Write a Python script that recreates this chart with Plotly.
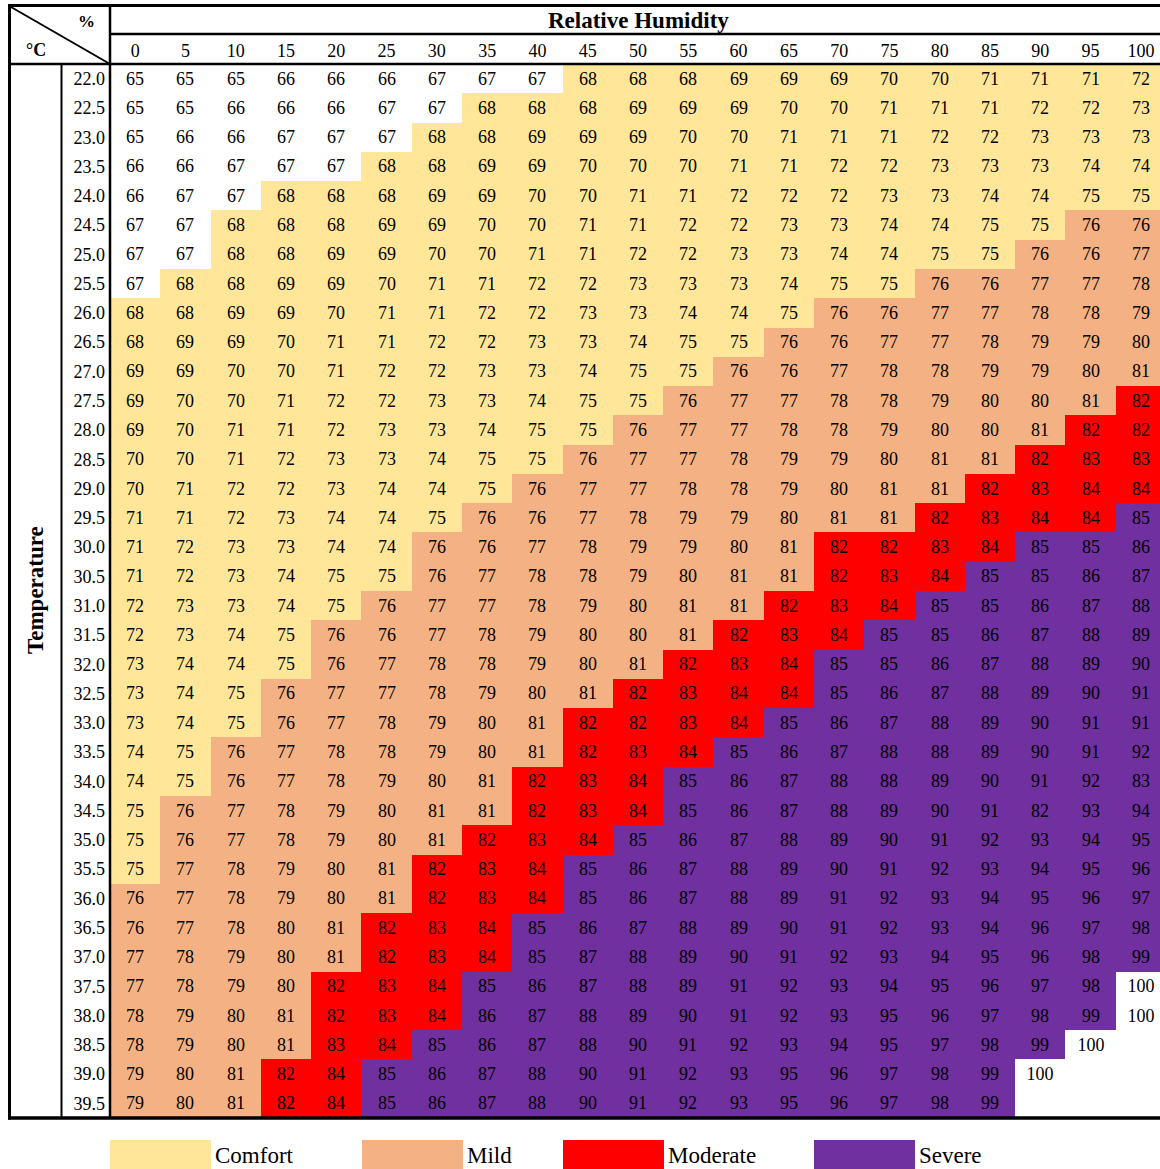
import plotly.graph_objects as go

humidity = [0, 5, 10, 15, 20, 25, 30, 35, 40, 45, 50, 55, 60, 65, 70, 75, 80, 85, 90, 95, 100]
temperature = [22.0, 22.5, 23.0, 23.5, 24.0, 24.5, 25.0, 25.5, 26.0, 26.5, 27.0, 27.5,
               28.0, 28.5, 29.0, 29.5, 30.0, 30.5, 31.0, 31.5, 32.0, 32.5, 33.0, 33.5,
               34.0, 34.5, 35.0, 35.5, 36.0, 36.5, 37.0, 37.5, 38.0, 38.5, 39.0, 39.5]

values = [
    [65, 65, 65, 66, 66, 66, 67, 67, 67, 68, 68, 68, 69, 69, 69, 70, 70, 71, 71, 71, 72],
    [65, 65, 66, 66, 66, 67, 67, 68, 68, 68, 69, 69, 69, 70, 70, 71, 71, 71, 72, 72, 73],
    [65, 66, 66, 67, 67, 67, 68, 68, 69, 69, 69, 70, 70, 71, 71, 71, 72, 72, 73, 73, 73],
    [66, 66, 67, 67, 67, 68, 68, 69, 69, 70, 70, 70, 71, 71, 72, 72, 73, 73, 73, 74, 74],
    [66, 67, 67, 68, 68, 68, 69, 69, 70, 70, 71, 71, 72, 72, 72, 73, 73, 74, 74, 75, 75],
    [67, 67, 68, 68, 68, 69, 69, 70, 70, 71, 71, 72, 72, 73, 73, 74, 74, 75, 75, 76, 76],
    [67, 67, 68, 68, 69, 69, 70, 70, 71, 71, 72, 72, 73, 73, 74, 74, 75, 75, 76, 76, 77],
    [67, 68, 68, 69, 69, 70, 71, 71, 72, 72, 73, 73, 73, 74, 75, 75, 76, 76, 77, 77, 78],
    [68, 68, 69, 69, 70, 71, 71, 72, 72, 73, 73, 74, 74, 75, 76, 76, 77, 77, 78, 78, 79],
    [68, 69, 69, 70, 71, 71, 72, 72, 73, 73, 74, 75, 75, 76, 76, 77, 77, 78, 79, 79, 80],
    [69, 69, 70, 70, 71, 72, 72, 73, 73, 74, 75, 75, 76, 76, 77, 78, 78, 79, 79, 80, 81],
    [69, 70, 70, 71, 72, 72, 73, 73, 74, 75, 75, 76, 77, 77, 78, 78, 79, 80, 80, 81, 82],
    [69, 70, 71, 71, 72, 73, 73, 74, 75, 75, 76, 77, 77, 78, 78, 79, 80, 80, 81, 82, 82],
    [70, 70, 71, 72, 73, 73, 74, 75, 75, 76, 77, 77, 78, 79, 79, 80, 81, 81, 82, 83, 83],
    [70, 71, 72, 72, 73, 74, 74, 75, 76, 77, 77, 78, 78, 79, 80, 81, 81, 82, 83, 84, 84],
    [71, 71, 72, 73, 74, 74, 75, 76, 76, 77, 78, 79, 79, 80, 81, 81, 82, 83, 84, 84, 85],
    [71, 72, 73, 73, 74, 74, 76, 76, 77, 78, 79, 79, 80, 81, 82, 82, 83, 84, 85, 85, 86],
    [71, 72, 73, 74, 75, 75, 76, 77, 78, 78, 79, 80, 81, 81, 82, 83, 84, 85, 85, 86, 87],
    [72, 73, 73, 74, 75, 76, 77, 77, 78, 79, 80, 81, 81, 82, 83, 84, 85, 85, 86, 87, 88],
    [72, 73, 74, 75, 76, 76, 77, 78, 79, 80, 80, 81, 82, 83, 84, 85, 85, 86, 87, 88, 89],
    [73, 74, 74, 75, 76, 77, 78, 78, 79, 80, 81, 82, 83, 84, 85, 85, 86, 87, 88, 89, 90],
    [73, 74, 75, 76, 77, 77, 78, 79, 80, 81, 82, 83, 84, 84, 85, 86, 87, 88, 89, 90, 91],
    [73, 74, 75, 76, 77, 78, 79, 80, 81, 82, 82, 83, 84, 85, 86, 87, 88, 89, 90, 91, 91],
    [74, 75, 76, 77, 78, 78, 79, 80, 81, 82, 83, 84, 85, 86, 87, 88, 88, 89, 90, 91, 92],
    [74, 75, 76, 77, 78, 79, 80, 81, 82, 83, 84, 85, 86, 87, 88, 88, 89, 90, 91, 92, 83],
    [75, 76, 77, 78, 79, 80, 81, 81, 82, 83, 84, 85, 86, 87, 88, 89, 90, 91, 82, 93, 94],
    [75, 76, 77, 78, 79, 80, 81, 82, 83, 84, 85, 86, 87, 88, 89, 90, 91, 92, 93, 94, 95],
    [75, 77, 78, 79, 80, 81, 82, 83, 84, 85, 86, 87, 88, 89, 90, 91, 92, 93, 94, 95, 96],
    [76, 77, 78, 79, 80, 81, 82, 83, 84, 85, 86, 87, 88, 89, 91, 92, 93, 94, 95, 96, 97],
    [76, 77, 78, 80, 81, 82, 83, 84, 85, 86, 87, 88, 89, 90, 91, 92, 93, 94, 96, 97, 98],
    [77, 78, 79, 80, 81, 82, 83, 84, 85, 87, 88, 89, 90, 91, 92, 93, 94, 95, 96, 98, 99],
    [77, 78, 79, 80, 82, 83, 84, 85, 86, 87, 88, 89, 91, 92, 93, 94, 95, 96, 97, 98, 100],
    [78, 79, 80, 81, 82, 83, 84, 86, 87, 88, 89, 90, 91, 92, 93, 95, 96, 97, 98, 99, 100],
    [78, 79, 80, 81, 83, 84, 85, 86, 87, 88, 90, 91, 92, 93, 94, 95, 97, 98, 99, 100, None],
    [79, 80, 81, 82, 84, 85, 86, 87, 88, 90, 91, 92, 93, 95, 96, 97, 98, 99, 100, None, None],
    [79, 80, 81, 82, 84, 85, 86, 87, 88, 90, 91, 92, 93, 95, 96, 97, 98, 99, None, None, None],
]

categories = ["Comfort", "Mild", "Moderate", "Severe"]
category_lower = [68, 76, 82, 85]
category_upper = [75, 81, 84, 99]
category_colors = ["#FFE699", "#F4B183", "#FF0000", "#7030A0"]
# cells whose shading in the source differs from their printed value
category_overrides = {(34.0, 100): "Severe", (34.5, 90): "Severe"}

FONT = "Liberation Serif, Times New Roman, serif"


def category_index(t, h, v):
    if (t, h) in category_overrides:
        return categories.index(category_overrides[(t, h)]) + 1
    if v is None:
        return None
    for i, (lo, hi) in enumerate(zip(category_lower, category_upper)):
        if lo <= v <= hi:
            return i + 1
    return 0


z = [[category_index(t, h, v) for h, v in zip(humidity, row)] for t, row in zip(temperature, values)]
text = [["" if v is None else str(v) for v in row] for row in values]

scale = [[0, "#FFFFFF"], [0.2, "#FFFFFF"]]
for i, c in enumerate(category_colors):
    scale += [[0.2 * (i + 1), c], [0.2 * (i + 2), c]]

fig = go.Figure(go.Heatmap(
    x=humidity, y=temperature, z=z, text=text, texttemplate="%{text}",
    textfont=dict(family=FONT, size=18, color="black"),
    colorscale=scale, zmin=-0.5, zmax=4.5, showscale=False, hoverinfo="skip",
))

W, H = 1160, 1169
L, R, T, B = 110, 0, 64, 51


def px(x):
    return (x - L) / (W - L - R)


def py(y):
    return (H - B - y) / (H - T - B)


shapes = []


def line(x0, y0, x1, y1, w):
    shapes.append(dict(type="line", xref="paper", yref="paper", x0=px(x0), y0=py(y0),
                       x1=px(x1), y1=py(y1), line=dict(color="black", width=w), layer="above"))


line(9.5, 5.5, 1165, 5.5, 3)        # top border
line(9.5, 4, 9.5, 1119.5, 3)        # left border
line(8, 1118, 1165, 1118, 3.5)      # bottom border
line(110, 5, 110, 1118, 2.5)        # header / data separator
line(61.5, 64, 61.5, 1118, 2)       # temperature title / labels separator
line(110, 34, 1165, 34, 2.5)        # under "Relative Humidity"
line(9, 64, 1165, 64, 2.5)          # under column labels
line(11, 7, 110, 64, 2)             # diagonal in the corner cell

annotations = [
    dict(text="<b>Relative Humidity</b>", x=px(638), y=py(20), font=dict(family=FONT, size=23)),
    dict(text="<b>%</b>", x=px(86), y=py(21), font=dict(family=FONT, size=17)),
    dict(text="<b>°C</b>", x=px(36), y=py(50), font=dict(family=FONT, size=18)),
    dict(text="<b>Temperature</b>", x=px(35), y=py(590), textangle=-90, font=dict(family=FONT, size=23)),
]

legend_box_x = [110, 362, 563, 814]
for x0, name, color in zip(legend_box_x, categories, category_colors):
    shapes.append(dict(type="rect", xref="paper", yref="paper", x0=px(x0), x1=px(x0 + 101),
                       y0=py(1140), y1=py(1175), fillcolor=color, line=dict(width=0)))
    annotations.append(dict(text=name, x=px(x0 + 103), y=py(1155), xanchor="left",
                            font=dict(family=FONT, size=23)))

for a in annotations:
    a.update(xref="paper", yref="paper", showarrow=False, font=dict(color="black", **a["font"]))
    a.setdefault("xanchor", "center")
    a.setdefault("yanchor", "middle")

fig.update_layout(
    width=W, height=H, autosize=False,
    font=dict(family=FONT, color="black"),
    margin=dict(l=L, r=R, t=T, b=B, pad=0),
    paper_bgcolor="white", plot_bgcolor="white",
    shapes=shapes, annotations=annotations,
    xaxis=dict(side="top", range=[-2.5, 101.9], tickvals=humidity, ticktext=[str(h) for h in humidity],
               showgrid=False, zeroline=False, showline=False, ticks="", ticklabelstandoff=2,
               tickfont=dict(family=FONT, size=18, color="black"), fixedrange=True),
    yaxis=dict(range=[39.75, 21.75], tickvals=temperature, ticktext=[f"{t:.1f}" for t in temperature],
               showgrid=False, zeroline=False, showline=False, ticks="", ticklabelstandoff=4,
               tickfont=dict(family=FONT, size=18, color="black"), fixedrange=True),
)

fig.write_html("out.html", config={"displayModeBar": False},
               post_script="document.body.style.margin='0';document.body.style.overflow='hidden';")
